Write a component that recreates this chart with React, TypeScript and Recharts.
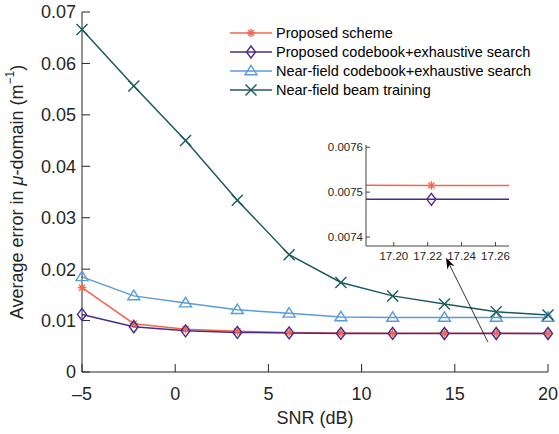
import React from 'react';
import {
  LineChart, Line, XAxis, YAxis, ReferenceLine, CartesianGrid, Label,
} from 'recharts';

// SNR grid (dB), ten points from -5 to 20
const snr = [-5, -2.2222, 0.5556, 3.3333, 6.1111, 8.8889, 11.6667, 14.4444, 17.2222, 20];

const proposedScheme = [0.0164, 0.0094, 0.0083, 0.0079, 0.0077, 0.0076, 0.00755, 0.00752, 0.007515, 0.0075];
const proposedCodebook = [0.0112, 0.0088, 0.0080, 0.0077, 0.0076, 0.0075, 0.0075, 0.00749, 0.007484, 0.00748];
const nearFieldCodebook = [0.0185, 0.0148, 0.0134, 0.0121, 0.0114, 0.0107, 0.0106, 0.0106, 0.0106, 0.0106];
const nearFieldTraining = [0.0666, 0.0556, 0.0450, 0.0334, 0.0228, 0.0174, 0.0148, 0.0132, 0.0117, 0.0111];

const xTicks = [-5, 0, 5, 10, 15, 20];
const yTicks = [0, 0.01, 0.02, 0.03, 0.04, 0.05, 0.06, 0.07];
const insetXTicks = [17.2, 17.22, 17.24, 17.26];
const insetYTicks = [0.0074, 0.0075, 0.0076];

// arrow from the curves up to the inset (data coords)
const arrowFrom = { x: 16.78, y: 0.0058 };
const arrowTo = { x: 14.53, y: 0.0222 };

const series = [
  { key: 'a', name: 'Proposed scheme', color: '#F4654E', marker: 'star', values: proposedScheme },
  { key: 'b', name: 'Proposed codebook+exhaustive search', color: '#4B2B8A', marker: 'diamond', values: proposedCodebook },
  { key: 'c', name: 'Near-field codebook+exhaustive search', color: '#5B9BD9', marker: 'triangle', values: nearFieldCodebook },
  { key: 'd', name: 'Near-field beam training', color: '#1D5A5E', marker: 'cross', values: nearFieldTraining },
];

const data = snr.map((x, i) => {
  const row: any = { snr: x };
  series.forEach(s => { row[s.key] = s.values[i]; });
  return row;
});

const FONT = '"Liberation Sans", Arial, Helvetica, sans-serif';
const AXIS = '#262626';

const markerShape = (kind: string, color: string, cx: number, cy: number, key?: any) => {
  const sw = 1.4;
  if (kind === 'star') {
    const r = 4.2, d = r * 0.72;
    return (
      <g key={key} stroke={color} strokeWidth={sw} fill="none">
        <line x1={cx - r} y1={cy} x2={cx + r} y2={cy} />
        <line x1={cx} y1={cy - r} x2={cx} y2={cy + r} />
        <line x1={cx - d} y1={cy - d} x2={cx + d} y2={cy + d} />
        <line x1={cx - d} y1={cy + d} x2={cx + d} y2={cy - d} />
      </g>
    );
  }
  if (kind === 'diamond') {
    const w = 4.5, h = 6;
    return (
      <polygon key={key} points={`${cx},${cy - h} ${cx + w},${cy} ${cx},${cy + h} ${cx - w},${cy}`}
        stroke={color} strokeWidth={sw} fill="none" />
    );
  }
  if (kind === 'triangle') {
    const w = 6, h = 9.5;
    return (
      <polygon key={key} points={`${cx},${cy - h * 0.6} ${cx + w},${cy + h * 0.4} ${cx - w},${cy + h * 0.4}`}
        stroke={color} strokeWidth={sw} fill="none" />
    );
  }
  const r = 5.5;
  return (
    <g key={key} stroke={color} strokeWidth={sw}>
      <line x1={cx - r} y1={cy - r} x2={cx + r} y2={cy + r} />
      <line x1={cx - r} y1={cy + r} x2={cx + r} y2={cy - r} />
    </g>
  );
};

const dotFor = (kind: string, color: string) => (props: any) => {
  const { cx, cy, index } = props;
  if (cx == null || cy == null) return <g key={`e-${index}`} />;
  return markerShape(kind, color, cx, cy, `m-${index}`);
};

const Arrow = (props: any) => {
  const { x1, y1, x2, y2 } = props;
  if ([x1, y1, x2, y2].some(v => v == null)) return null;
  const ang = Math.atan2(y2 - y1, x2 - x1);
  const len = 11, half = 4;
  const bx = x2 - len * Math.cos(ang), by = y2 - len * Math.sin(ang);
  const nx = -Math.sin(ang), ny = Math.cos(ang);
  const notchX = x2 - len * 0.7 * Math.cos(ang), notchY = y2 - len * 0.7 * Math.sin(ang);
  return (
    <g>
      <line x1={x1} y1={y1} x2={notchX} y2={notchY} stroke="#000" strokeWidth={0.8} />
      <polygon
        points={`${x2},${y2} ${bx + nx * half},${by + ny * half} ${notchX},${notchY} ${bx - nx * half},${by - ny * half}`}
        fill="#000" />
    </g>
  );
};

const xFmt = (v: number) => (v < 0 ? `\u2013${Math.abs(v)}` : `${v}`);
const yFmt = (v: number) => (v === 0 ? '0' : v.toFixed(2));

const Legend = () => (
  <div style={{ position: 'absolute', left: 226, top: 24, fontFamily: FONT, fontSize: 14.5, color: '#000' }}>
    {series.map(s => (
      <div key={s.key} style={{ display: 'flex', alignItems: 'center', height: 18.8 }}>
        <svg width={48} height={18} style={{ display: 'block' }}>
          <line x1={4} y1={9} x2={46} y2={9} stroke={s.color} strokeWidth={1.5} />
          {markerShape(s.marker, s.color, 25, 9)}
        </svg>
        <span style={{ marginLeft: 2, whiteSpace: 'nowrap' }}>{s.name}</span>
      </div>
    ))}
  </div>
);

export default function App() {
  const tickStyle = { fill: AXIS, fontSize: 18, fontFamily: FONT };
  const insetTick = { fill: AXIS, fontSize: 11.5, fontFamily: FONT };
  return (
    <div style={{ position: 'absolute', left: 0, top: 0, width: 559, height: 434, background: '#fff' }}>
      <LineChart width={559} height={434} data={data} margin={{ top: 12, right: 11, left: 0, bottom: 0 }}>
        <XAxis dataKey="snr" type="number" domain={[-5, 20]} ticks={xTicks} tickFormatter={xFmt}
          height={62} tickSize={-8} tickMargin={23} stroke={AXIS} tick={tickStyle}>
          <Label content={({ viewBox }: any) => (
            <text x={viewBox.x + viewBox.width / 2} y={viewBox.y + 46} textAnchor="middle"
              dominantBaseline="central" fontSize={18} fontFamily={FONT} fill={AXIS}>SNR (dB)</text>
          )} />
        </XAxis>
        <XAxis xAxisId="top" orientation="top" type="number" dataKey="snr" domain={[-5, 20]} ticks={xTicks}
          height={0} tick={false} tickSize={-8} stroke={AXIS} />
        <YAxis type="number" domain={[0, 0.07]} ticks={yTicks} tickFormatter={yFmt} width={82}
          tickSize={-8} tickMargin={14} stroke={AXIS} tick={tickStyle}>
          <Label content={({ viewBox }: any) => {
            const cx = viewBox.x + 17, cy = viewBox.y + viewBox.height / 2;
            return (
              <text x={cx} y={cy} transform={`rotate(-90 ${cx} ${cy})`} textAnchor="middle"
                dominantBaseline="central" fontSize={18} fontFamily={FONT} fill={AXIS}>
                Average error in <tspan fontStyle="italic">μ</tspan>-domain (m
                <tspan fontSize={12} dy={-7}>−1</tspan><tspan dy={7}>)</tspan>
              </text>
            );
          }} />
        </YAxis>
        <YAxis yAxisId="right" orientation="right" type="number" domain={[0, 0.07]} ticks={yTicks}
          width={0} tick={false} tickSize={-8} stroke={AXIS} />
        {series.map(s => (
          <Line key={s.key} dataKey={s.key} type="linear" stroke={s.color} strokeWidth={1.5}
            dot={dotFor(s.marker, s.color)} activeDot={false} isAnimationActive={false} />
        ))}
        <ReferenceLine segment={[arrowFrom, arrowTo]} ifOverflow="visible" shape={<Arrow />} />
      </LineChart>

      <Legend />

      <div style={{ position: 'absolute', left: 300, top: 140 }}>
        <LineChart width={220} height={130} data={data} margin={{ top: 5, right: 11, left: 0, bottom: 0 }}>
          <CartesianGrid horizontal={false} vertical={false} fill="#fff" />
          <XAxis dataKey="snr" type="number" domain={[17.1836, 17.268]} allowDataOverflow ticks={insetXTicks}
            tickFormatter={(v: number) => v.toFixed(2)} height={24} tickSize={-4} tickMargin={10}
            stroke="#444" tick={insetTick} />
          <XAxis xAxisId="top" orientation="top" type="number" dataKey="snr" domain={[17.1836, 17.268]}
            allowDataOverflow ticks={insetXTicks} height={0} tick={false} tickSize={-4} stroke="#444" />
          <YAxis type="number" domain={[0.00738, 0.007605]} allowDataOverflow ticks={insetYTicks}
            tickFormatter={(v: number) => v.toFixed(4)} width={66} tickSize={-4} tickMargin={7}
            stroke="#444" tick={insetTick} />
          <YAxis yAxisId="right" orientation="right" type="number" domain={[0.00738, 0.007605]}
            allowDataOverflow ticks={insetYTicks} width={0} tick={false} tickSize={-4} stroke="#444" />
          {series.slice(0, 2).map(s => (
            <Line key={s.key} dataKey={s.key} type="linear" stroke={s.color} strokeWidth={1.5}
              dot={dotFor(s.marker, s.color)} activeDot={false} isAnimationActive={false} />
          ))}
        </LineChart>
      </div>
    </div>
  );
}
